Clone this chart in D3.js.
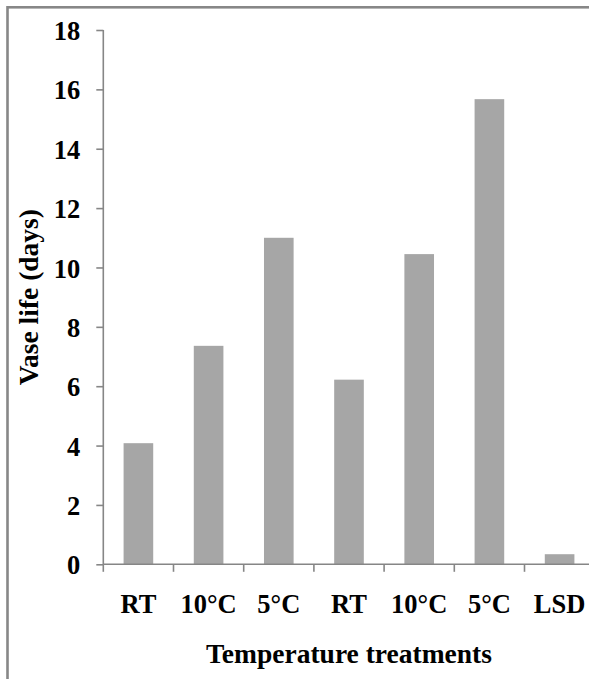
<!DOCTYPE html>
<html>
<head>
<meta charset="utf-8">
<script src="https://cdn.jsdelivr.net/npm/d3@7"></script>
<style>
  html, body { margin: 0; padding: 0; background: #fff; }
  svg { display: block; }
  text { font-family: "Liberation Serif", "Times New Roman", serif; font-weight: bold; fill: #000; }
</style>
</head>
<body>
<svg id="chart" width="589" height="679"></svg>
<script>
// Vase life by temperature treatment
const categories = ["RT", "10°C", "5°C", "RT", "10°C", "5°C", "LSD"];
const vaseLife = [4.08, 7.36, 11.0, 6.22, 10.45, 15.67, 0.34];
const yTicks = [0, 2, 4, 6, 8, 10, 12, 14, 16, 18];
const xTitle = "Temperature treatments";
const yTitle = "Vase life (days)";

const W = 589, H = 679;
const plot = { left: 103.3, right: 594.7, top: 30, bottom: 564.3 };
const axisColor = "#868686";
const barColor = "#a6a6a6";
const labelSize = 26.5;
const titleSize = 27.5;

const svg = d3.select("#chart");

// outer chart-area border (runs past the right and bottom edges)
svg.append("rect")
  .attr("x", 7.5).attr("y", 7.3)
  .attr("width", W + 20).attr("height", H + 20)
  .attr("fill", "none")
  .attr("stroke", "#878787")
  .attr("stroke-width", 2.6);

const x = d3.scaleBand()
  .domain(d3.range(categories.length))
  .range([plot.left, plot.right])
  .paddingInner(0.578)
  .paddingOuter(0.289);

const y = d3.scaleLinear()
  .domain([0, 18])
  .range([plot.bottom, plot.top]);

// bars
svg.append("g")
  .selectAll("rect")
  .data(vaseLife)
  .join("rect")
  .attr("x", (d, i) => x(i))
  .attr("width", x.bandwidth())
  .attr("y", d => y(d))
  .attr("height", d => y(0) - y(d))
  .attr("fill", barColor);

// y axis
const yAxis = svg.append("g")
  .attr("transform", `translate(${plot.left},0)`)
  .call(d3.axisLeft(y).tickValues(yTicks).tickSize(7).tickPadding(16).tickFormat(d3.format("d")));
yAxis.select(".domain").attr("stroke", axisColor).attr("stroke-width", 1.6)
  .attr("d", `M0,${plot.top}V${plot.bottom}`);
yAxis.selectAll(".tick line").attr("stroke", axisColor).attr("stroke-width", 1.6);
yAxis.selectAll(".tick text")
  .attr("font-size", labelSize)
  .attr("font-family", "Liberation Serif, serif")
  .attr("font-weight", "bold")
  .attr("fill", "#000")
  .attr("dy", "0.36em");

// x axis: boundary ticks between categories
const step = x.step();
const xAxisG = svg.append("g").attr("transform", `translate(0,${plot.bottom})`);
xAxisG.append("line")
  .attr("x1", plot.left).attr("x2", plot.right)
  .attr("y1", 0).attr("y2", 0)
  .attr("stroke", axisColor).attr("stroke-width", 1.6);
xAxisG.selectAll("line.tk")
  .data(d3.range(categories.length + 1))
  .join("line")
  .attr("class", "tk")
  .attr("x1", i => plot.left + i * step)
  .attr("x2", i => plot.left + i * step)
  .attr("y1", 0).attr("y2", 7.5)
  .attr("stroke", axisColor).attr("stroke-width", 1.6);

// category labels
svg.append("g")
  .selectAll("text")
  .data(categories)
  .join("text")
  .attr("x", (d, i) => x(i) + x.bandwidth() / 2)
  .attr("y", 613)
  .attr("text-anchor", "middle")
  .attr("font-size", labelSize)
  .text(d => d);

// axis titles
svg.append("text")
  .attr("x", (plot.left + plot.right) / 2)
  .attr("y", 663)
  .attr("text-anchor", "middle")
  .attr("font-size", titleSize)
  .text(xTitle);

svg.append("text")
  .attr("transform", `translate(38,${(plot.top + plot.bottom) / 2}) rotate(-90)`)
  .attr("text-anchor", "middle")
  .attr("font-size", titleSize)
  .text(yTitle);
</script>
</body>
</html>
